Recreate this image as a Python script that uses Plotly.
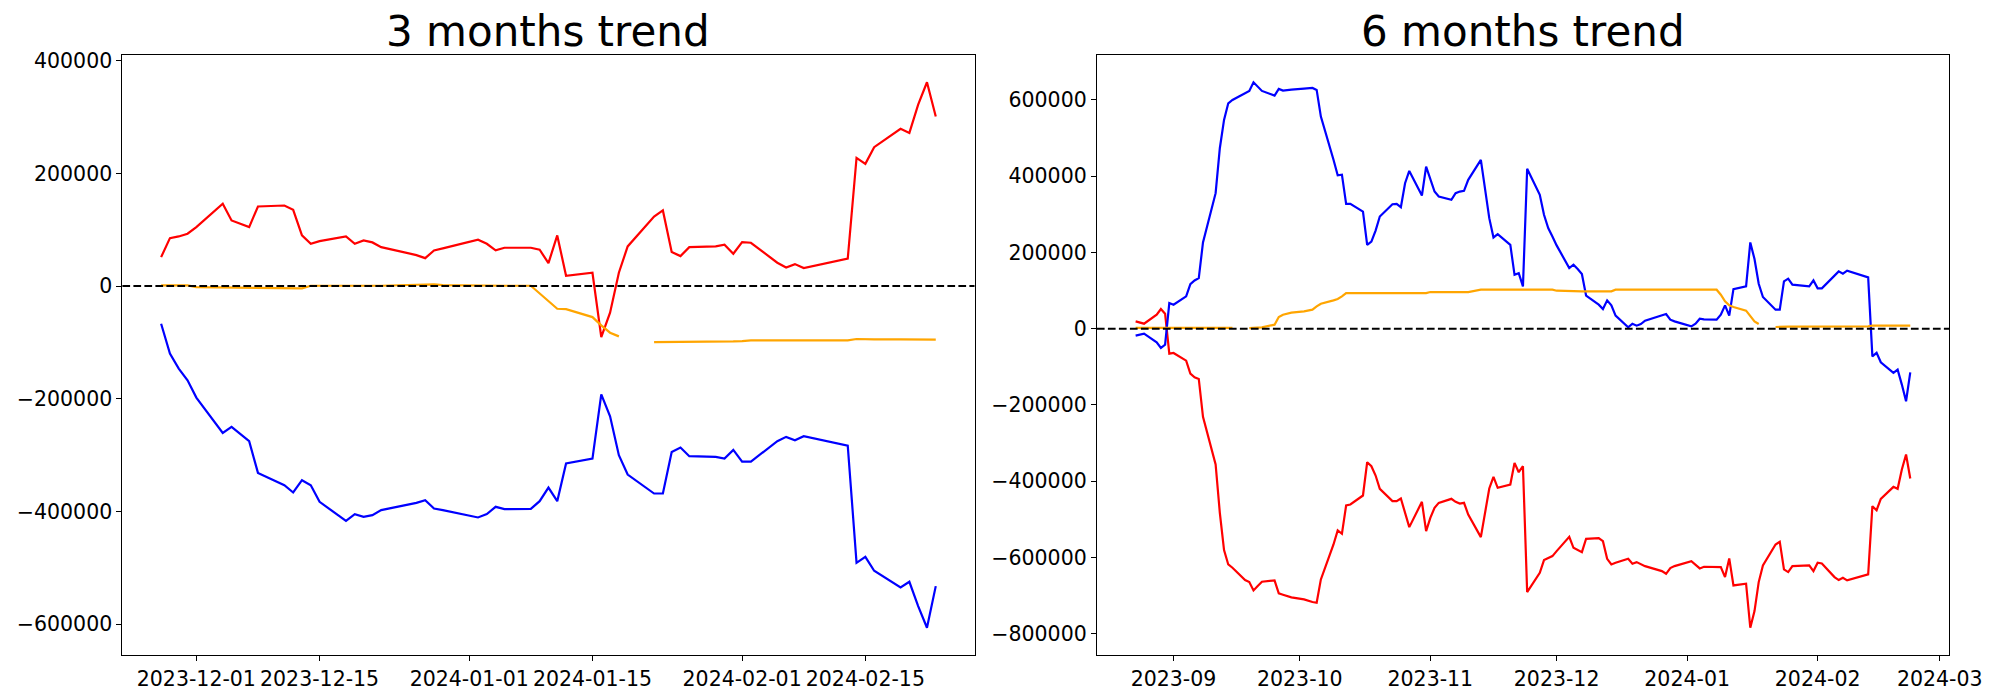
import pandas as pd
import plotly.graph_objects as go

# ---------------- data ----------------
holidays = ["2023-12-25", "2024-01-01", "2024-02-09", "2024-02-12"]

def trading_days(start, end):
    d = pd.bdate_range(start, end)
    return [x for x in d if x.strftime("%Y-%m-%d") not in holidays]

dates_3m = trading_days("2023-11-27", "2024-02-23")
dates_6m = trading_days("2023-08-23", "2024-02-23")

# 3 months trend
red_3m = [51400, 85100, 88100, 92900,
          104600, 146000, 116400, 111100, 104600, 141300, 143000, 135400, 89900, 75100,
          79800, 88100, 75100, 81000, 77500, 69100, 55000, 49600, 63300, 66800,
          82200, 75100, 63300, 68000, 68000, 64500, 40800, 89900, 18400, 23700,
          -90400, -47200, 23700, 70400, 123500, 134200, 60300, 53200, 69100, 70400, 73300, 57400,
          78000, 76900, 41500, 33100, 39000, 31900, 48600, 227500, 216900, 246400,
          279000, 271800, 322000, 361600, 300800]
blue_3m = [-66700, -119800, -146400, -167100,
           -197800, -260500, -249900, -262800, -275200, -331400, -353200, -366200, -344400, -353200,
           -382800, -416500, -404600, -409400, -406400, -397500, -384600, -379800, -394600, -397500,
           -410500, -404600, -391600, -395700, -395200, -381600, -357400, -381600, -314800, -306000,
           -192000, -231000, -300100, -334300, -368000, -368000, -294200, -286400, -301800, -303000,
           -306000, -290600,
           -311300, -311300, -275200, -267500, -273400, -266300, -282900, -490900, -480300, -505100,
           -534600, -524600, -567700, -606100, -532300]
orange_3m = [1200, 1200, 1200, 1200,
             -1800, -2400, -2400, -3500, -4100, -4100, -4100, -4100, -4100, 600,
             600, 600, 600, 600, 600, 600, 2400, 3000, 3000, 1800,
             600, 600, 600, 600, 600, -13600, -27800, -40200, -40800, -55000,
             -69700, -82700, -89200, None, -99300, -99300, -99300, -99300, -99300, -99300,
             -99300, -98100,
             -97500, -96300, -96300, -96300, -96300, -96300, -96300, -93900, -94500, -94500,
             -94500, -94500, -93900, -93900, -95100]

# 6 months trend
blue_6m = [-18300, -15700, -13100, -35800, -50700, -41900, 67200,
           62900, 84700, 116900, 126500, 132600, 226200, 355400, 473300, 547500, 591200, 600000,
           617400, 623600, 646300, 635000, 623600, 611300, 628800, 624400, 626200, 627000,
           629600, 630500, 631400, 626200, 556300, 443000, 402200, 404000, 327300, 327300,
           307200, 219800, 228600, 257400, 294100, 326400, 327300, 318600, 381500, 413800,
           349200, 425200,
           390300, 359700, 346600, 337900, 355400, 359700, 361500, 390300, 442700, 364100,
           289900, 239200, 247900, 219800, 141300, 145700, 110800, 419200, 351100, 298700,
           263800, 242000,
           218400, 159000, 167700, 156400, 143300, 86500, 62900, 51500, 74200, 61100,
           34100, 3500, 13100, 7900, 12200, 21000, 34100, 38400, 23600, 19200,
           6100, 13100, 26200, 24500, 23600, 36700, 61100, 34100, 103900, 110900,
           226200, 182600, 117900, 83000, 49800, 49800, 124100, 131100, 115400, 112800,
           111000, 126700,
           105700, 105700, 138900, 150300, 144200, 152000, 134600, -72500, -63500, -88200,
           -116100, -107400, -146700, -190300, -114400]
red_6m = [19200, 16600, 13100, 36700, 51500, 39300, -65500,
          -63700, -83800, -117900, -127500, -131900, -231400, -356300, -483000, -580800, -618400,
          -627100, -659400, -664700, -686500, -675200, -663800, -660300, -694400, -697800,
          -701300, -704800,
          -710000, -714400, -717000, -718800, -657700, -566000, -529300, -538000, -463800,
          -461100, -437600, -350200, -360700, -385200, -420100, -452400, -452400, -445400,
          -483000, -520500, -454200, -531100,
          -496100, -469900, -456800, -446300, -454200, -458600, -456800, -487400, -546800,
          -483000, -419200, -388600, -417400, -408700, -351900, -376400, -360700, -690900,
          -640200, -607000, -600900, -596500,
          -583400, -545900, -574700, -580800, -586100, -551100, -549400, -557300, -603600,
          -618400, -614000, -603600, -616700, -612300, -618400, -622800, -635900, -642900,
          -628000, -622800,
          -609700, -618400, -628900, -624500, -624500, -625400, -651600, -602700, -673500,
          -669100, -784400, -740700, -664700, -621000, -566000, -559000, -631500, -638500,
          -622800, -620200, -621000, -635900,
          -614000, -615700, -651600, -659400, -653300, -660300, -644600, -465600, -476100,
          -446300, -414900, -420100, -369500, -330200, -393100]
orange_6m = [2000, 2000, 2000, 2000, 2000, 2000, 2000,
             2000, 2000, 2000, 2000, 2000, 2000, 2000, 2000, 2000, 2000, 2000,
             None, 1700, 1700, 1700, 3500, 10500, 30600, 36700, 39300, 41900,
             45400, 47200, 49800, 58500, 65500, 74200, 77700, 84700, 93400, 93400,
             93400, 93400, 93400, 93400, 93400, 93400, 93400, 93400, 93400, 93400,
             93400, 93400,
             96100, 96100, 96100, 96100, 96100, 96100, 96100, 96100, 102200, 102200,
             102200, 102200, 102200, 102200, 102200, 102200, 102200, 102200, 102200, 102200,
             102200, 102200,
             99600, 97800, 97800, 97800, 97800, 97800, 97800, 97800, 97800, 97800,
             102200, 102200, 102200, 102200, 102200, 102200, 102200, 104000, 104000, 104000,
             104000, 102200, 102200, 102200, 102200, 89100, 71600, 61100, 56800, 47200,
             32300, 19200, 12200, None, 4400, 5200, 5200, 5200, 5200, 5200,
             5200, 5200,
             5200, 6100, 6100, 6100, 6100, 6100, 6100, 7900, 7900, 7900,
             7900, 7900, 7900, 7900, 7900]

ticks_3m = ["2023-12-01", "2023-12-15", "2024-01-01", "2024-01-15", "2024-02-01", "2024-02-15"]
ticks_6m = ["2023-09-01", "2023-10-01", "2023-11-01", "2023-12-01", "2024-01-01",
            "2024-02-01", "2024-03-01"]
titles = ["3 months trend", "6 months trend"]

# ---------------- figure ----------------
W, H = 2000, 700
FONT = "DejaVu Sans"

def margin_range(vals, frac=0.05):
    v = [x for x in vals if x is not None]
    lo, hi = min(v), max(v)
    pad = (hi - lo) * frac
    return [lo - pad, hi + pad]

def date_range(dates, frac=0.05):
    lo, hi = min(dates), max(dates)
    pad = (hi - lo) * frac
    return [lo - pad, hi + pad]

fig = go.Figure()

panels = [
    ("x", "y", dates_3m, red_3m, blue_3m, orange_3m),
    ("x2", "y2", dates_6m, red_6m, blue_6m, orange_6m),
]
for xa, ya, d, r, b, o in panels:
    for vals, col in ((r, "red"), (b, "blue"), (o, "orange")):
        fig.add_trace(go.Scatter(x=d, y=vals, mode="lines", xaxis=xa, yaxis=ya,
                                 line=dict(color=col, width=2.2), connectgaps=False,
                                 showlegend=False, hoverinfo="skip"))
    fig.add_shape(type="line", xref=f"{xa} domain", yref=ya, x0=0, x1=1, y0=0, y1=0,
                  line=dict(color="black", width=2, dash="7.7px,3.3px"))

ax_common = dict(showline=True, mirror=True, linecolor="black", linewidth=1.1,
                 ticks="outside", ticklen=5, tickwidth=1.1, tickcolor="black",
                 showgrid=False, zeroline=False, automargin=False, tickangle=0,
                 tickfont=dict(family=FONT, size=20.5, color="black"))

dom1 = [122.4 / W, 974.5 / W]
dom2 = [1096.9 / W, 1949.0 / W]
ydom = [(H - 655) / H, (H - 55) / H]

all3 = red_3m + blue_3m + orange_3m
all6 = red_6m + blue_6m + orange_6m

fig.update_layout(
    width=W, height=H,
    margin=dict(l=0, r=0, t=0, b=0, autoexpand=False),
    paper_bgcolor="white", plot_bgcolor="white",
    xaxis=dict(domain=dom1, anchor="y", type="date", range=date_range(dates_3m),
               tickmode="array", tickvals=ticks_3m, tickformat="%Y-%m-%d", **ax_common),
    yaxis=dict(domain=ydom, anchor="x", range=margin_range(all3), dtick=200000,
               tickformat="d", **ax_common),
    xaxis2=dict(domain=dom2, anchor="y2", type="date", range=date_range(dates_6m),
                tickmode="array", tickvals=ticks_6m, tickformat="%Y-%m", **ax_common),
    yaxis2=dict(domain=ydom, anchor="x2", range=margin_range(all6), dtick=200000,
                tickformat="d", **ax_common),
)

for dom, t in zip((dom1, dom2), titles):
    fig.add_annotation(text=t, xref="paper", yref="paper", x=(dom[0] + dom[1]) / 2,
                       y=(H - 32) / H, xanchor="center", yanchor="middle", showarrow=False,
                       font=dict(family=FONT, size=42, color="black"))

fig.write_html("out.html", config={"displayModeBar": False},
               post_script="document.body.style.margin='0';"
                           "document.body.style.overflow='hidden';")
